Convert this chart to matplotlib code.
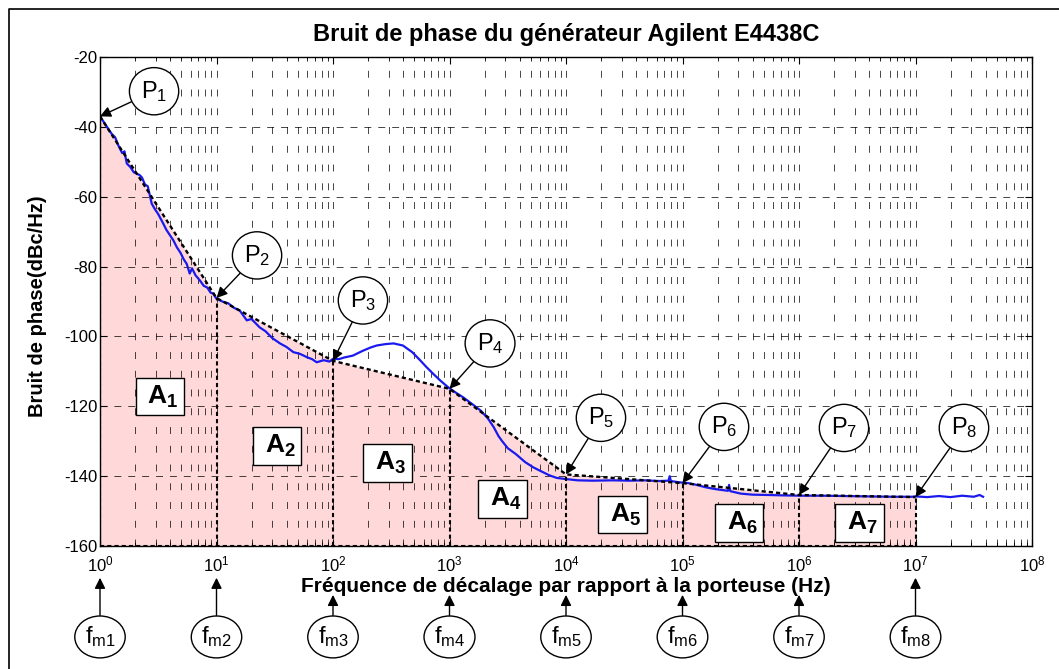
import numpy as np
import matplotlib.pyplot as plt
from matplotlib.ticker import FixedLocator, LogLocator, NullFormatter
from matplotlib.lines import Line2D


plt.rcParams['font.family'] = ['Liberation Sans', 'DejaVu Sans']
plt.rcParams['mathtext.fontset'] = 'custom'
plt.rcParams['mathtext.rm'] = 'Liberation Sans'
plt.rcParams['mathtext.it'] = 'Liberation Sans:italic'
plt.rcParams['mathtext.bf'] = 'Liberation Sans:bold'
plt.rcParams['lines.scale_dashes'] = False
plt.rcParams['axes.unicode_minus'] = False


mes_logf = [0.00, 0.05, 0.10, 0.13, 0.16, 0.19, 0.21, 0.23, 0.26, 0.29,
            0.32, 0.34, 0.36, 0.386, 0.41, 0.444, 0.47, 0.50, 0.543, 0.57,
            0.60, 0.63, 0.66, 0.69, 0.72, 0.744, 0.77, 0.79, 0.82, 0.858,
            0.89, 0.92, 0.95, 0.97, 1.00, 1.05, 1.10, 1.15, 1.20, 1.26,
            1.30, 1.37, 1.42, 1.48, 1.545, 1.60, 1.66, 1.717, 1.78, 1.82,
            1.86, 1.92, 1.97, 2.00, 2.05, 2.10, 2.17, 2.25, 2.32, 2.375,
            2.45, 2.52, 2.60, 2.68, 2.75, 2.80, 2.86, 2.92, 2.99, 3.05,
            3.12, 3.20, 3.27, 3.33, 3.38, 3.42, 3.45, 3.50, 3.57, 3.65,
            3.72, 3.78, 3.86, 3.92, 3.99, 4.10, 4.23, 4.40, 4.55, 4.68,
            4.80, 4.88, 4.89, 4.90, 4.98, 5.05, 5.12, 5.20, 5.28, 5.39,
            5.40, 5.41, 5.50, 5.60, 5.74, 5.85, 6.01, 6.20, 6.40, 6.60,
            6.80, 6.97, 7.00, 7.10, 7.20, 7.30, 7.40, 7.50, 7.55, 7.58]
mes_db = [-37.0, -39.5, -42.0, -43.0, -45.5, -47.5, -47.0, -50.5, -51.5, -53.0,
          -53.5, -53.8, -54.5, -56.5, -57.0, -62.0, -63.5, -65.0, -67.7, -69.5,
          -71.0, -72.5, -74.5, -76.0, -78.0, -79.2, -82.0, -80.5, -82.5, -84.0,
          -85.5, -86.0, -87.5, -87.7, -89.2, -90.0, -90.5, -91.8, -92.6, -95.4,
          -95.0, -97.4, -98.5, -100.5, -102.0, -103.0, -104.5, -105.0, -106.0, -106.5,
          -107.4, -106.8, -107.2, -106.4, -106.5, -106.0, -105.5, -104.2, -103.2, -102.6,
          -102.2, -102.0, -102.6, -104.5, -106.9, -108.7, -110.7, -112.6, -114.6, -116.0,
          -117.5, -119.5, -121.3, -123.5, -126.0, -128.5, -129.9, -132.0, -133.7, -136.0,
          -137.5, -138.5, -139.8, -140.5, -140.8, -141.2, -141.3, -141.2, -141.3, -141.2,
          -141.4, -141.3, -140.0, -141.4, -141.8, -142.0, -142.5, -143.2, -143.7, -144.2,
          -142.5, -144.3, -145.0, -145.3, -145.4, -145.5, -145.6, -145.6, -145.7, -145.8,
          -145.9, -145.9, -145.8, -146.0, -145.7, -146.0, -145.6, -145.9, -145.4, -145.9]

# piecewise model P1..P8 at each decade
env_f = [1e0, 1e1, 1e2, 1e3, 1e4, 1e5, 1e6, 1e7]
env_db = [-37.0, -89.0, -107.0, -115.0, -139.5, -142.0, -145.4, -146.0]

p_names = ['P_1', 'P_2', 'P_3', 'P_4', 'P_5', 'P_6', 'P_7', 'P_8']
a_names = ['A_1', 'A_2', 'A_3', 'A_4', 'A_5', 'A_6', 'A_7']
fm_names = ['f_{m1}', 'f_{m2}', 'f_{m3}', 'f_{m4}', 'f_{m5}', 'f_{m6}', 'f_{m7}', 'f_{m8}']

x_ticks = [1e0, 1e1, 1e2, 1e3, 1e4, 1e5, 1e6, 1e7, 1e8]
y_ticks = [-160, -140, -120, -100, -80, -60, -40, -20]

# label placement (layout only)
p_lab_logx = [0.464, 1.348, 2.257, 3.348, 4.30, 5.356, 6.386, 7.416]
p_lab_y = [-29.8, -76.8, -89.7, -102.0, -123.3, -125.9, -126.2, -126.2]
a_lab_logx = [0.515, 1.52, 2.47, 3.456, 4.485, 5.487, 6.52]
a_lab_y = [-117.2, -131.3, -136.2, -146.5, -151.0, -153.4, -153.4]
fm_long = [True, True, False, False, False, False, False, True]


W, H = 1059, 669
fig = plt.figure(figsize=(W / 100, H / 100), dpi=100)
ax = fig.add_axes([100 / W, 1 - 546 / H, 932 / W, 489 / H])

mes_f = 10 ** np.array(mes_logf)

# shaded areas under the model
ax.fill_between(env_f, env_db, -160, color='#ffd9d9', lw=0, zorder=0.5)
ax.plot(mes_f, mes_db, color='#1a1aee', lw=1.6, zorder=2)

dash = (0, (3, 2.2))
ax.plot(env_f, env_db, color='black', lw=1.7, ls=dash, zorder=3)
ax.vlines(env_f, -160, env_db, color='black', lw=1.5, ls=dash, zorder=3)
ax.hlines(-160, env_f[0], env_f[-1], color='black', lw=1.5, ls=dash, zorder=3)

ax.set_xscale('log')
ax.set_xlim(1, 1e8)
ax.set_ylim(-160, -20)
ax.set_yticks(y_ticks)
ax.xaxis.set_major_locator(FixedLocator(x_ticks))
ax.xaxis.set_minor_locator(LogLocator(base=10, subs=np.arange(2, 10), numticks=20))
ax.xaxis.set_minor_formatter(NullFormatter())
ax.tick_params(which='both', direction='in', top=True, right=True, labelsize=12)
ax.tick_params(which='major', length=5, width=0.8)
ax.tick_params(which='minor', length=3, width=0.6)
ax.tick_params(axis='x', pad=6)
ax.tick_params(axis='y', pad=2)

ax.grid(True, which='major', axis='y', color='black', lw=0.6, ls=(0, (5, 5)), alpha=0.85)
ax.grid(True, which='both', axis='x', color='black', lw=0.6, ls=(0, (5, 8.5)), alpha=0.85)
for s in ax.spines.values():
    s.set_linewidth(1.0)

fig.text(566 / W, 1 - 35 / H, 'Bruit de phase du générateur Agilent E4438C',
         ha='center', va='center', fontsize=17, fontweight='bold')
ax.set_xlabel('Fréquence de décalage par rapport à la porteuse (Hz)',
              fontsize=15, fontweight='bold')
ax.xaxis.set_label_coords(0.5, -0.064)
fig.text(38 / W, 1 - 306 / H, 'Bruit de phase(dBc/Hz)', rotation=90,
         ha='center', va='center', fontsize=14.5, fontweight='bold')

arrow = dict(arrowstyle='-|>', color='black', lw=1.0, mutation_scale=16,
             shrinkA=0, shrinkB=0)

# P points
for i in range(len(env_f)):
    ax.annotate('$\\mathregular{%s}$' % p_names[i], xy=(env_f[i], env_db[i]),
                xytext=(10 ** p_lab_logx[i], p_lab_y[i]), textcoords='data',
                ha='center', va='center', fontsize=17, zorder=6,
                bbox=dict(boxstyle='ellipse,pad=0.18', fc='white', ec='black', lw=1.0),
                arrowprops=arrow)

# areas
for i in range(len(a_names)):
    ax.text(10 ** a_lab_logx[i], a_lab_y[i], '$\\mathbf{\\;%s\\;}$' % a_names[i],
            ha='center', va='center', fontsize=19, zorder=6,
            bbox=dict(boxstyle='square,pad=0.22', fc='white', ec='black', lw=1.0))

# f_m markers under the axis
for i in range(len(env_f)):
    tip_y = -0.065 if fm_long[i] else -0.100
    ax.annotate('$\\mathregular{%s}$' % fm_names[i], xy=(env_f[i], tip_y),
                xycoords=('data', 'axes fraction'),
                xytext=(env_f[i], -0.186), textcoords=('data', 'axes fraction'),
                ha='center', va='center', fontsize=17, annotation_clip=False,
                bbox=dict(boxstyle='ellipse,pad=0.1', fc='white', ec='black', lw=1.0),
                arrowprops=arrow)

# frame on the left and top of the picture
fig.add_artist(Line2D([9 / W, 9 / W, 1], [0, 1 - 9 / H, 1 - 9 / H],
                      transform=fig.transFigure, color='black', lw=1.2))

fig.savefig('out.png', dpi=100)
